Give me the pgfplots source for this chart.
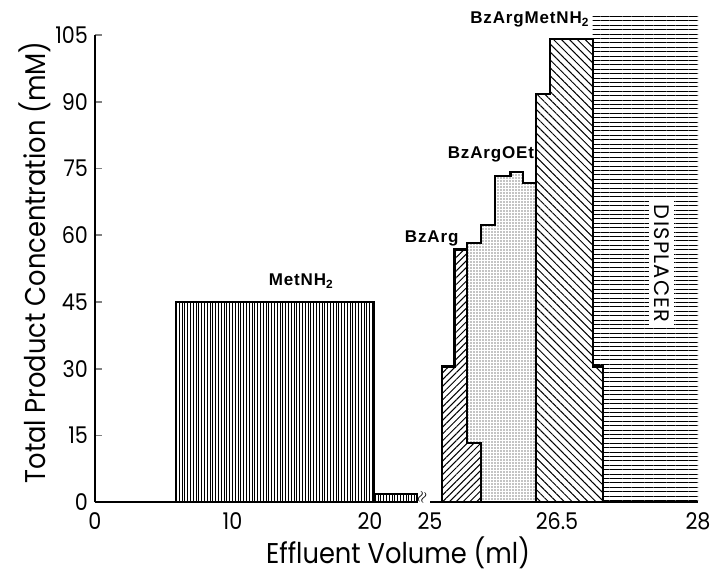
\documentclass[border=0pt]{standalone}
\usepackage{pgfplots}
\pgfplotsset{compat=1.18}
\usetikzlibrary{patterns.meta}
\usepackage{fontspec}
\setmainfont{Poppins}
\newfontfamily\lab[FakeStretch=0.9]{Poppins}
\newfontfamily\tagfont[LetterSpace=5]{Liberation Sans}
\newfontfamily\dispfont[LetterSpace=6]{Poppins}

\begin{document}
\begin{tikzpicture}
\begin{axis}[
    anchor=origin, at={(0pt,0pt)},
    x=0.5pt, y=2.225pt,
    % broken, hand-drawn volume scale: 0-24 ml, then 25-28 ml stretched
    x coord trafo/.code={\pgfmathparse{(#1<=24) ? 13.75*#1 : ((#1<=25) ? 330+5*(#1-24) : ((#1<=26.5) ? 335+84.67*(#1-25) : 462+94*(#1-26.5)))}},
    xmin=0, xmax=28, ymin=0, ymax=110,
    enlargelimits=false,
    clip=false,
    axis x line*=bottom, axis y line*=left,
    x axis line style={draw=none},
    y axis line style={draw=none},
    hide obscured x ticks=false,
    hide obscured y ticks=false,
    xtick={0,10,20,25,26.5,28},
    xticklabels={0,10,20,25,26.5,28},
    xtick style={draw=none},
    ytick={0,15,30,45,60,75,90,105},
    ytick style={line width=0.8pt},
    tick align=inside,
    major tick length=3.5pt,
    /pgf/number format/assume math mode=true,
    ticklabel style={font=\lab\fontsize{11.5}{12}\selectfont},
    xticklabel style={yshift=-1.5pt},
    xlabel={Effluent Volume (ml)},
    ylabel={Total Product Concentration (mM)},
    label style={font=\lab\fontsize{14.3}{16}\selectfont},
    xlabel style={at={(rel axis cs:0.5025,0)}, anchor=center, yshift=-25.3pt},
    ylabel style={at={(rel axis cs:0,0.49)}, anchor=center, yshift=30pt},
    no markers,
]

% MetNH2
\addplot[draw=black, line width=1.1pt, pattern={Lines[angle=90,distance=1.4pt,line width=0.5pt]}]
    coordinates {(5.89,0) (5.89,45) (20.29,45) (20.29,0)} -- cycle;
\addplot[draw=black, line width=1pt, pattern={Lines[angle=90,distance=1.4pt,line width=0.5pt]}]
    coordinates {(20.29,0) (20.29,1.8) (23.4,1.8) (23.4,0)} -- cycle;

% displacer
\addplot[draw=none, pattern={Lines[angle=0,distance=2.2pt,line width=0.5pt]}]
    coordinates {(26.88,30.5) (26.88,109.5) (28,109.5) (28,0) (26.99,0) (26.99,30.5)} -- cycle;

% BzArg
\addplot[draw=black, line width=1.1pt, pattern={Lines[angle=45,distance=2.4pt,line width=0.5pt]}]
    coordinates {(25.14,0) (25.14,30.5) (25.29,30.5) (25.29,56.8) (25.44,56.8)
                 (25.44,13.4) (25.60,13.4) (25.60,0)} -- cycle;

% BzArgOEt
\addplot[draw=black, line width=1.1pt, pattern={Dots[radius=0.35pt,distance=1.5pt]}]
    coordinates {(25.44,13.4) (25.44,58.3) (25.60,58.3) (25.60,62.3) (25.77,62.3)
                 (25.77,73.3) (25.95,73.3) (25.95,74.3) (26.10,74.3) (26.10,71.7)
                 (26.25,71.7) (26.25,0) (25.60,0) (25.60,13.4)} -- cycle;

% BzArgMetNH2
\addplot[draw=black, line width=1.1pt, pattern={Lines[angle=-45,distance=2.8pt,line width=0.5pt]}]
    coordinates {(26.25,0) (26.25,91.7) (26.42,91.7) (26.42,104.1) (26.88,104.1)
                 (26.88,30.5) (26.99,30.5) (26.99,0)} -- cycle;

% axis lines with the break
\draw[line width=1pt] (axis cs:0,0) -- (axis cs:23.4,0);
\draw[line width=1pt] (axis cs:25,0) -- (axis cs:28,0);
\draw[line width=1pt] (axis cs:0,0) -- (axis cs:0,105);
\node[font=\fontsize{7}{7}\selectfont, rotate=70, inner sep=0pt] at (axis cs:23.82,1.1) {$\approx$};

% labels
\node[font=\tagfont\bfseries\fontsize{8.5}{9}\selectfont] at (axis cs:15,49.7) {MetNH\textsubscript{2}};
\node[font=\tagfont\bfseries\fontsize{8.5}{9}\selectfont] at (axis cs:25.02,59.4) {BzArg};
\node[font=\tagfont\bfseries\fontsize{8.5}{9}\selectfont] at (axis cs:25.72,78.1) {BzArgOEt};
\node[font=\tagfont\bfseries\fontsize{8.5}{9}\selectfont] at (axis cs:26.18,108.4) {BzArgMetNH\textsubscript{2}};
\node[rotate=-90, fill=white, inner sep=2.5pt, font=\dispfont\fontsize{10.5}{11}\selectfont]
    at (axis cs:27.61,53.6) {DISPLACER};
\end{axis}
\pgfresetboundingbox
\useasboundingbox (-47.5pt,-34.35pt) rectangle (310pt,251.15pt);
\end{tikzpicture}
\end{document}
